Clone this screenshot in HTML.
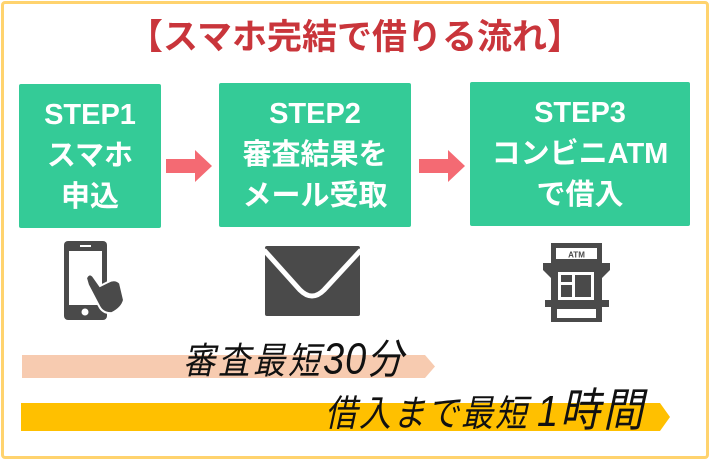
<!DOCTYPE html>
<html><head><meta charset="utf-8"><style>
html,body{margin:0;padding:0;}
body{width:710px;height:460px;position:relative;background:#fff;overflow:hidden;font-family:"Liberation Sans","Noto Sans CJK JP",sans-serif;}
.frame{position:absolute;left:1px;top:1px;width:702px;height:452px;border:3px solid #FFD36E;border-radius:4px;}
.title{position:absolute;left:0;width:710px;top:16px;text-align:center;color:#C9353B;font-weight:bold;font-size:35px;line-height:44px;}
.box{position:absolute;background:#34CB97;color:#fff;font-weight:bold;font-size:29px;line-height:41px;text-align:center;border-radius:2px;display:flex;flex-direction:column;justify-content:center;}
.bar{position:absolute;font-style:italic;color:#111;transform:scaleY(1.15);transform-origin:0 50%;white-space:nowrap;}
.bar span{display:inline-block;}
</style></head><body>
<div class="frame"></div>
<div class="title">【スマホ完結で借りる流れ】</div>
<div class="box" style="left:19px;top:84px;width:142px;height:144px;"><div>STEP1</div><div>スマホ</div><div>申込</div></div>
<div class="box" style="left:219px;top:83px;width:192px;height:144px;"><div>STEP2</div><div>審査結果を</div><div>メール受取</div></div>
<div class="box" style="left:470px;top:82px;width:220px;height:144px;"><div>STEP3</div><div>コンビニATM</div><div>で借入</div></div>
<svg width="710" height="460" style="position:absolute;left:0;top:0">
<polygon points="166,159 195,159 195,150 212,166 195,182 195,173 166,173" fill="#F46A73"/>
<polygon points="419,159 448,159 448,150 465,166 448,182 448,173 419,173" fill="#F46A73"/>
<rect x="64" y="241" width="43" height="79" rx="4" fill="#4A4A4A"/>
<rect x="69" y="251" width="33" height="54" fill="#fff"/>
<rect x="80" y="245" width="11" height="2" fill="#fff"/>
<circle cx="85" cy="312" r="3.5" fill="#fff"/>
<path d="M88 285 L99 306 Q103 314 112 313 Q122 308 124 300 L120 283 Q115 278 108 282 L100 286 L93 276 Q89 272 86 278 Z" fill="#4A4A4A" stroke="#fff" stroke-width="2"/>
<rect x="265" y="246" width="95" height="70" rx="2" fill="#4A4A4A"/>
<path d="M264,250 L300,290 Q312,302 324,290 L361,250" fill="none" stroke="#fff" stroke-width="5"/>
<rect x="543" y="243" width="66" height="80" fill="#fff"/>
<rect x="551" y="243" width="51" height="79" fill="#4A4A4A"/>
<rect x="556" y="248" width="41" height="11" fill="#fff"/>
<text x="576.5" y="257.5" font-size="8" font-weight="bold" fill="#4A4A4A" text-anchor="middle" font-family="Liberation Sans,sans-serif">ATM</text>
<polygon points="543,263 610,263 610,270 602,278 551,278 543,270" fill="#4A4A4A"/>
<rect x="558" y="272" width="36" height="28" fill="#fff"/>
<rect x="561" y="275" width="11" height="7" fill="#4A4A4A"/>
<rect x="561" y="285" width="11" height="12" fill="#4A4A4A"/>
<rect x="575" y="275" width="16" height="22" fill="#4A4A4A"/>
<rect x="545" y="300" width="64" height="7" fill="#4A4A4A"/>
<rect x="557" y="309" width="39" height="9" fill="#fff"/>
<polygon points="22,355 425,355 435,366.5 425,378 22,378" fill="#F7CBB0"/>
<polygon points="21,403 660,403 670,417 660,431 21,431" fill="#FFC000"/>
</svg>
<div class="bar" style="left:183px;top:342px;font-size:32px;line-height:36px;letter-spacing:3px;">審査最短<span style="font-size:38px;letter-spacing:1px">30</span><span style="font-size:36px">分</span></div>
<div class="bar" style="left:325px;top:393px;font-size:32px;line-height:36px;letter-spacing:2px;">借入まで最短<span style="font-size:38px;margin-left:8px">1</span><span style="font-size:40px;letter-spacing:3px">時間</span></div>
</body></html>
